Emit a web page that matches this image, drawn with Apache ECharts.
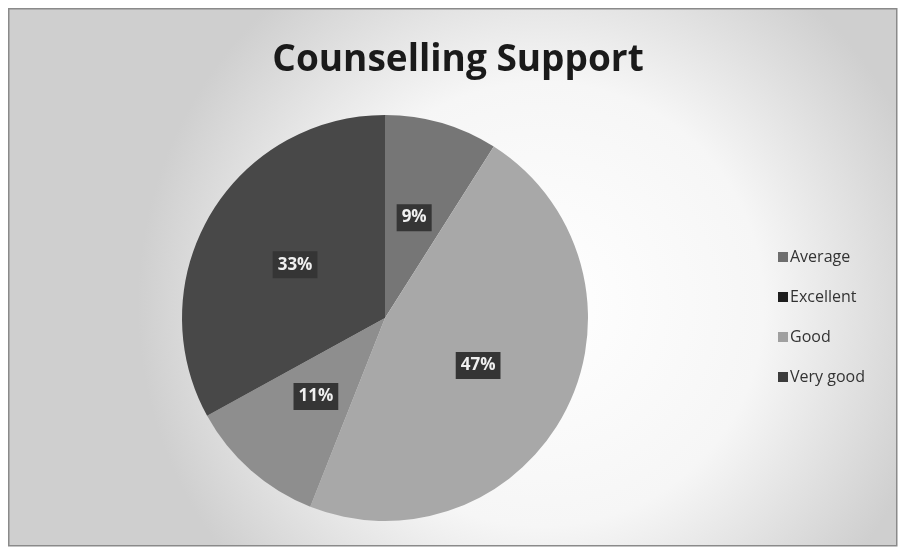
<!DOCTYPE html>
<html><head><meta charset="utf-8">
<script src="https://cdn.jsdelivr.net/npm/echarts@6/dist/echarts.min.js"></script>
<style>html,body{margin:0;padding:0;background:#fff;}#c{width:901px;height:550px;}</style>
</head><body><div id="c"></div>
<script>
const title = 'Counselling Support';
const sliceNames = ['Average', 'Good', 'Excellent', 'Very good'];
const sliceValues = [9, 47, 11, 33];
const sliceColors = ['#767676', '#a8a8a8', '#8e8e8e', '#484848'];
const legendNames = ['Average', 'Excellent', 'Good', 'Very good'];
const legendColors = ['#6e6e6e', '#1e1e1e', '#a0a0a0', '#3c3c3c'];

const chart = echarts.init(document.getElementById('c'), null, {renderer: 'canvas'});
chart.setOption({
  backgroundColor: 'transparent',
  graphic: [{
    type: 'rect', z: -10, left: 8, top: 8,
    shape: {width: 888, height: 537},
    style: {
      fill: new echarts.graphic.RadialGradient(0.6, 0.55, 0.75, [
        {offset: 0, color: '#ffffff'},
        {offset: 0.55, color: '#f6f6f6'},
        {offset: 1, color: '#cfcfcf'}
      ]),
      stroke: '#8a8a8a', lineWidth: 1.5
    }
  }],
  title: {
    text: title, left: 453, top: 37, textAlign: 'center',
    textStyle: {fontFamily: 'Open Sans', fontWeight: 'bold', fontSize: 37, color: '#1a1a1a'}
  },
  legend: {
    orient: 'vertical', left: 773, top: 244, itemGap: 24,
    itemWidth: 10, itemHeight: 10, icon: 'rect',
    textStyle: {fontFamily: 'Open Sans', fontSize: 16, color: '#333333', padding: [0, 0, 0, -3]},
    data: legendNames.map((n, i) => ({name: n, itemStyle: {color: legendColors[i]}}))
  },
  series: [{
    type: 'pie', center: [385, 318], radius: 203, startAngle: 90, clockwise: true,
    silent: true,
    data: sliceNames.map((n, i) => ({name: n, value: sliceValues[i], itemStyle: {color: sliceColors[i]}})),
    label: {
      show: true, position: 'inside', formatter: '{d}%',
      fontFamily: 'Open Sans', fontWeight: 'bold', fontSize: 17, color: '#f0f0f0',
      backgroundColor: '#353535', padding: [6, 5, 4, 5]
    },
    labelLine: {show: false}
  }]
});
</script></body></html>
